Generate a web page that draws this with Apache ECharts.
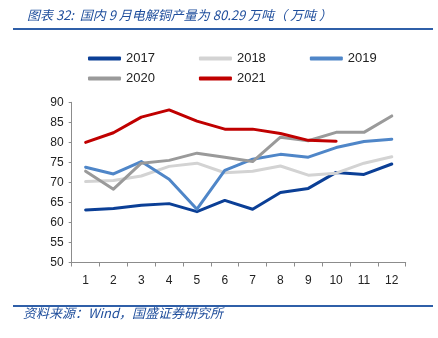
<!DOCTYPE html>
<html>
<head>
<meta charset="utf-8">
<script src="https://cdn.jsdelivr.net/npm/echarts@6/dist/echarts.min.js"></script>
<style>
  html, body { margin: 0; padding: 0; background: #ffffff; }
  #chart { width: 438px; height: 338px; }
</style>
</head>
<body>
<div id="chart"></div>
<script>
// Monthly domestic electrolytic copper output, 10k tonnes
const months = ['1', '2', '3', '4', '5', '6', '7', '8', '9', '10', '11', '12'];
const y2017 = [63.1, 63.5, 64.3, 64.7, 62.7, 65.5, 63.3, 67.5, 68.5, 72.5, 72.0, 74.6];
const y2018 = [70.2, 70.5, 71.6, 74.0, 74.8, 72.4, 72.8, 74.1, 71.8, 72.3, 74.8, 76.4];
const y2019 = [73.8, 72.1, 75.2, 70.8, 63.3, 73.0, 75.8, 77.0, 76.3, 78.7, 80.2, 80.8];
const y2020 = [72.8, 68.3, 74.8, 75.5, 77.3, 76.3, 75.2, 81.3, 80.4, 82.5, 82.5, 86.6];
const y2021 = [80.0, 82.4, 86.3, 88.1, 85.3, 83.3, 83.3, 82.2, 80.5, 80.29];

const seriesNames = ['2017', '2018', '2019', '2020', '2021'];
const seriesColors = ['#0b3f96', '#d3d3d3', '#4f86c8', '#9a9a9a', '#c00000'];
const seriesData = [y2017, y2018, y2019, y2020, y2021];

const chart = echarts.init(document.getElementById('chart'), null, { renderer: 'canvas' });

const blue = '#1f4e9c';
const legendText = { fontSize: 13, color: '#222', fontFamily: 'Liberation Sans, Arial, sans-serif' };

function legendBlock(names, top) {
  return {
    data: names,
    left: 83,
    top: top,
    orient: 'horizontal',
    icon: 'roundRect',
    itemWidth: 33,
    itemHeight: 4,
    itemGap: 44,
    textStyle: legendText,
    selectedMode: false
  };
}

chart.setOption({
  animation: false,
  backgroundColor: '#ffffff',
  title: {
    text: '图表 32:  国内 9 月电解铜产量为 80.29 万吨（ 万吨 ）',
    left: 22,
    top: 4,
    textStyle: {
      fontSize: 13,
      fontWeight: 'normal',
      fontStyle: 'italic',
      color: blue,
      fontFamily: 'Noto Sans CJK SC, sans-serif'
    }
  },
  legend: [
    legendBlock(['2017', '2018', '2019'], 47),
    legendBlock(['2020', '2021'], 67)
  ],
  grid: { left: 71.7, right: 32.3, top: 102.3, bottom: 75.5 },
  xAxis: {
    type: 'category',
    data: months,
    boundaryGap: true,
    axisLine: { lineStyle: { color: '#8c8c8c', width: 1 } },
    axisTick: { show: true, length: 4, lineStyle: { color: '#8c8c8c' } },
    axisLabel: { fontSize: 12, color: '#222', margin: 12, fontFamily: 'Liberation Sans, Arial, sans-serif' }
  },
  yAxis: {
    type: 'value',
    min: 50,
    max: 90,
    interval: 5,
    axisLine: { show: true, lineStyle: { color: '#8c8c8c', width: 1 } },
    axisTick: { show: true, length: 3, lineStyle: { color: '#8c8c8c' } },
    splitLine: { show: false },
    axisLabel: { fontSize: 12, color: '#222', margin: 8, fontFamily: 'Liberation Sans, Arial, sans-serif' }
  },
  series: seriesNames.map((name, i) => ({
    name: name,
    type: 'line',
    data: seriesData[i],
    symbol: 'none',
    smooth: false,
    z: 2 + i,
    itemStyle: { color: seriesColors[i] },
    lineStyle: { color: seriesColors[i], width: 3, cap: 'round', join: 'round' }
  })),
  graphic: [
    { type: 'line', shape: { x1: 13, y1: 29, x2: 433, y2: 29 }, style: { stroke: '#2f5fa8', lineWidth: 2 } },
    { type: 'line', shape: { x1: 13, y1: 306, x2: 433, y2: 306 }, style: { stroke: '#2f5fa8', lineWidth: 2 } },
    {
      type: 'text',
      left: 23,
      top: 307,
      style: {
        text: '资料来源：Wind，国盛证券研究所',
        fill: blue,
        fontSize: 13,
        fontStyle: 'italic',
        fontFamily: 'Noto Sans CJK SC, sans-serif'
      }
    }
  ]
});
</script>
</body>
</html>
